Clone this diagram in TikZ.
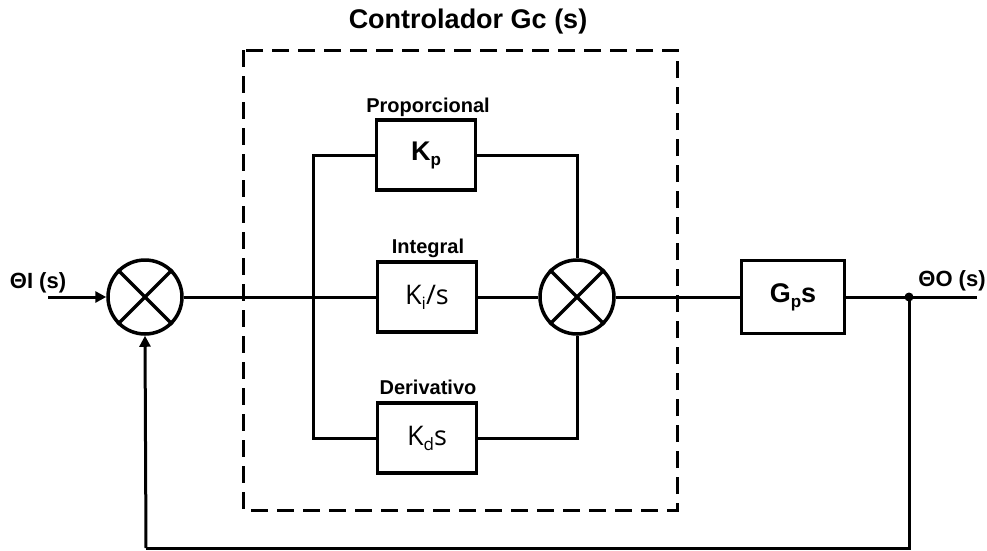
\documentclass[tikz,border=0pt]{standalone}
\usepackage{fontspec}
\setmainfont{Liberation Sans}
\newfontfamily\lightfont{Open Sans}
\usetikzlibrary{arrows.meta,calc}
\newcommand{\lowsub}[1]{\raisebox{-0.35ex}{\fontsize{17}{20}\selectfont #1}}
\begin{document}
\begin{tikzpicture}[x=1pt,y=-1pt,
  blk/.style={draw,line width=3.5pt,minimum width=99pt,minimum height=70pt,inner sep=0pt},
  sumnode/.style={draw,circle,line width=3.5pt,minimum size=74pt,inner sep=0pt},
  conn/.style={line width=3pt},
  lbl/.style={font=\bfseries\fontsize{20}{24}\selectfont,inner sep=0pt},
  arr/.style={conn,-{Triangle[length=11pt,width=11pt]}}
]
\useasboundingbox (0,0) rectangle (987,550);
% dashed controller box
\draw[line width=3pt,dash pattern=on 17pt off 9pt] (243,50) rectangle (677,510);
\node[font=\bfseries\fontsize{27}{30}\selectfont,inner sep=0pt] (title) at (468,22) {Controlador Gc (s)};
% sums
\node[sumnode] (s1) at (145,297) {};
\draw[line width=3.5pt] (s1.north east) -- (s1.south west) (s1.north west) -- (s1.south east);
\node[sumnode] (s2) at (577,297) {};
\draw[line width=3.5pt] (s2.north east) -- (s2.south west) (s2.north west) -- (s2.south east);
% blocks
\node[blk] (kp) at (426,155) {\bfseries\fontsize{27}{30}\selectfont K\lowsub{p}};
\node[blk] (ki) at (427,297) {\lightfont\fontsize{27}{30}\selectfont K\lowsub{i}/s};
\node[blk] (kd) at (427,438) {\lightfont\fontsize{27}{30}\selectfont K\lowsub{d}s};
\node[blk,minimum width=103pt,minimum height=73pt] (gp) at (793,297) {\bfseries\fontsize{27}{30}\selectfont G\lowsub{p}s};
\node[lbl] (lp) at (428,107) {Proporcional};
\node[lbl] (li) at (428,248) {Integral};
\node[lbl] (ld) at (428,387) {Derivativo};
% input
\coordinate (in) at (48,297);
\node[font=\bfseries\fontsize{22}{26}\selectfont,inner sep=0pt] (tin) at (38,283) {ΘI (s)};
\draw[arr] (in) -- (s1.west);
% branches
\coordinate (bl) at (313,297);
\draw[conn] (s1.east) -- (ki.west);
\draw[conn] (ki.east) -- (s2.west);
\draw[conn] (kp.west) -| (bl) |- (kd.west);
\draw[conn] (kp.east) -| (s2.north);
\draw[conn] (kd.east) -| (s2.south);
\draw[conn] (s2.east) -- (gp.west);
% output
\coordinate (dot) at (909,297);
\coordinate (out) at (977,297);
\draw[conn] (gp.east) -- (out);
\fill (dot) circle (4.5pt);
\node[font=\bfseries\fontsize{22}{26}\selectfont,inner sep=0pt] (tout) at (952,281) {ΘO (s)};
% feedback
\coordinate (fb1) at (909,548);
\coordinate (fb2) at (146,548);
\draw[conn] (dot) -- (fb1) -- (fb2);
\draw[arr] (fb2) -- (s1.south);
\end{tikzpicture}
\end{document}
